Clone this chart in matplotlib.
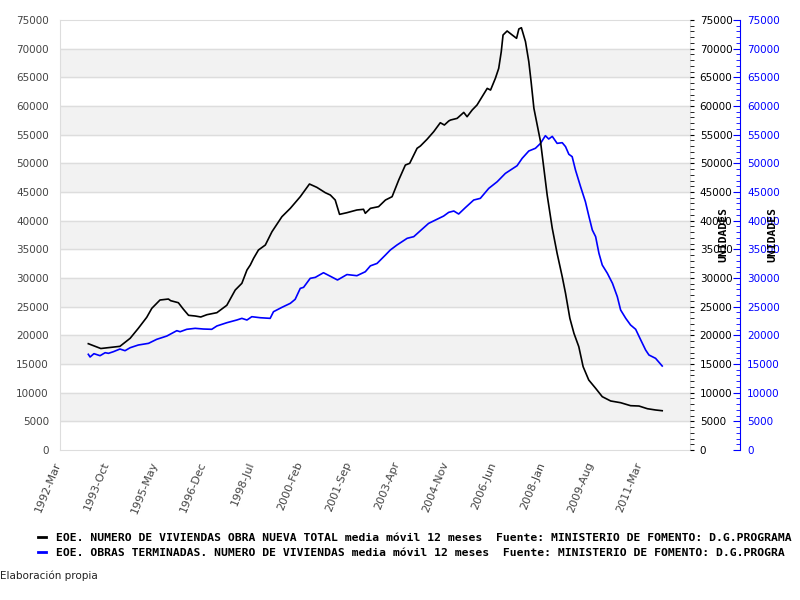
import matplotlib.pyplot as plt
from matplotlib.lines import Line2D
from matplotlib.ticker import MultipleLocator
from matplotlib.transforms import ScaledTranslation

# months counted from 1992-Mar
tick_pos = [0, 19, 38, 57, 76, 95, 114, 133, 152, 171, 190, 209, 228]
tick_labels = ["1992-Mar", "1993-Oct", "1995-May", "1996-Dec", "1998-Jul", "2000-Feb",
               "2001-Sep", "2003-Apr", "2004-Nov", "2006-Jun", "2008-Jan", "2009-Aug", "2011-Mar"]

nueva_x = [11.1, 16.0, 23.5, 27.5, 30.7, 34.0, 36.0, 39.2, 42.5, 43.4, 46.4, 48.4, 50.4, 53.0,
           55.2, 57.6, 61.5, 65.4, 68.7, 71.3, 73.3, 74.6, 75.9, 77.8, 80.5, 83.1, 87.0, 90.3,
           94.2, 97.8, 100.7, 104.0, 106.0, 107.9, 109.6, 112.5, 116.4, 119.0, 119.7, 121.7,
           124.9, 127.6, 130.2, 132.8, 135.4, 137.1, 140.0, 141.3, 143.9, 146.5, 149.1, 150.7,
           152.4, 153.1, 155.7, 158.3, 159.6, 161.6, 163.5, 165.5, 167.5, 168.8, 170.7, 172.0,
           173.0, 173.7, 175.3, 177.3, 179.0, 179.9, 180.9, 182.5, 183.8, 184.7, 185.8, 187.1,
           188.4, 189.7, 191.0, 193.0, 194.9, 196.9, 198.2, 199.9, 201.5, 203.4, 205.1, 207.3,
           210.0, 212.6, 215.9, 219.8, 223.7, 227.0, 230.3, 233.5, 236.1]
nueva_y = [18540, 17700, 18080, 19480, 21220, 23140, 24710, 26160, 26330, 26040, 25690, 24540,
           23490, 23370, 23200, 23600, 23950, 25240, 27900, 29070, 31390, 32260, 33430, 34880,
           35750, 38070, 40690, 42150, 44180, 46390, 45810, 44880, 44470, 43600, 41100, 41390,
           41860, 41980, 41280, 42150, 42440, 43600, 44180, 47090, 49700, 50000, 52620, 53020,
           54190, 55510, 57080, 56680, 57380, 57550, 57840, 58880, 58130, 59300, 60170, 61620,
           63070, 62780, 64830, 66560, 69460, 72380, 73080, 72380, 71800, 73430, 73650, 71220,
           67730, 64240, 59590, 56680, 53770, 49130, 44470, 38660, 34300, 30230, 27330, 22970,
           20350, 18020, 14530, 12210, 10760, 9300, 8550, 8250, 7730, 7670, 7200, 6980, 6850]

term_x = [11.1, 11.8, 13.3, 15.7, 17.7, 19.0, 20.9, 23.5, 25.5, 27.5, 30.7, 34.7, 37.9, 41.9,
          45.8, 47.1, 49.7, 53.0, 56.2, 59.5, 61.5, 65.4, 69.3, 71.3, 73.3, 75.2, 78.5, 82.4,
          83.7, 87.0, 90.3, 92.2, 94.2, 95.5, 98.1, 100.1, 103.3, 106.0, 108.8, 112.5, 116.4,
          119.7, 121.7, 124.3, 127.6, 129.5, 132.1, 136.1, 138.7, 141.3, 144.5, 147.2, 150.4,
          152.4, 154.4, 156.3, 158.9, 162.2, 164.8, 168.1, 171.4, 174.6, 179.2, 181.2, 183.8,
          186.4, 188.4, 190.3, 191.6, 193.0, 194.9, 196.9, 198.2, 199.5, 200.8, 202.1, 204.1,
          206.0, 207.4, 208.7, 210.0, 211.3, 212.6, 214.6, 216.6, 218.5, 219.8, 221.8, 223.7,
          225.7, 227.7, 229.6, 230.9, 233.5, 236.1]
term_y = [16690, 16220, 16800, 16450, 16970, 16860, 17140, 17610, 17320, 17840, 18310, 18600,
          19300, 19880, 20810, 20630, 21050, 21220, 21100, 21050, 21630, 22200, 22670, 22960,
          22670, 23250, 23070, 22960, 24120, 24880, 25580, 26280, 28190, 28370, 29940, 30110,
          30920, 30300, 29650, 30600, 30400, 31090, 32120, 32540, 34010, 34880, 35750, 36920,
          37210, 38250, 39520, 40110, 40800, 41450, 41680, 41160, 42260, 43600, 43890, 45630,
          46790, 48240, 49580, 50870, 52150, 52620, 53480, 54820, 54240, 54700, 53480, 53600,
          52910, 51580, 51160, 48830, 45920, 43300, 40690, 38370, 37210, 34300, 32260, 30820,
          29070, 26740, 24420, 22970, 21800, 21050, 19180, 17440, 16570, 15990, 14650]

label_nueva = "EOE. NUMERO DE VIVIENDAS OBRA NUEVA TOTAL media móvil 12 meses  Fuente: MINISTERIO DE FOMENTO: D.G.PROGRAMA"
label_term = "EOE. OBRAS TERMINADAS. NUMERO DE VIVIENDAS media móvil 12 meses  Fuente: MINISTERIO DE FOMENTO: D.G.PROGRA"

fig = plt.figure(figsize=(8, 6), dpi=100)
ax = fig.add_axes([0.075, 0.25, 0.7875, 0.7167])

for lo in range(5000, 75000, 10000):
    ax.axhspan(lo, lo + 5000, color="#f2f2f2", zorder=0)
for v in range(5000, 75000, 5000):
    ax.axhline(v, color="#dddddd", lw=1, zorder=1)

ax.plot(term_x, term_y, color="#0000ff", lw=1.2, zorder=3)
ax.plot(nueva_x, nueva_y, color="black", lw=1.2, zorder=4)

ax.set_xlim(0, 247)
ax.set_ylim(0, 75000)
ax.set_yticks(range(0, 75001, 5000))
ax.tick_params(axis="y", length=0, labelsize=7.5, labelcolor="#444444", pad=8)
ax.set_xticks(tick_pos)
ax.set_xticklabels(tick_labels, rotation=68, ha="right", rotation_mode="anchor",
                   fontsize=8, color="#444444")
ax.tick_params(axis="x", length=0, pad=6)
shift = ScaledTranslation(-7 / 100, -2 / 100, fig.dpi_scale_trans)
for lab in ax.get_xticklabels():
    lab.set_transform(lab.get_transform() + shift)
for s in ax.spines.values():
    s.set_color("#dddddd")

ax2 = ax.twinx()
ax2.set_ylim(0, 75000)
ax2.set_yticks(range(0, 75001, 5000))
ax2.yaxis.set_minor_locator(MultipleLocator(1000))
ax2.tick_params(axis="y", which="both", length=3, color="black", labelsize=7.5, pad=4)
for s in ax2.spines.values():
    s.set_visible(False)
ax2.set_ylabel("UNIDADES", fontsize=8.2, fontweight="bold", family="DejaVu Sans Mono",
               labelpad=-10)

ax3 = ax.twinx()
ax3.spines["right"].set_position(("outward", 36))
ax3.spines["right"].set_color("#0000ff")
for k in ["left", "top", "bottom"]:
    ax3.spines[k].set_visible(False)
ax3.set_ylim(0, 75000)
ax3.set_yticks(range(0, 75001, 5000))
ax3.yaxis.set_minor_locator(MultipleLocator(1000))
ax3.tick_params(axis="y", which="major", direction="in", length=5, color="#0000ff",
                labelcolor="#0000ff", labelsize=7.5, pad=5)
ax3.tick_params(axis="y", which="minor", direction="in", length=3, color="#0000ff")
ax3.set_ylabel("UNIDADES", fontsize=8.2, fontweight="bold", family="DejaVu Sans Mono",
               labelpad=-9)

handles = [Line2D([], [], color="black", lw=2), Line2D([], [], color="#0000ff", lw=2)]
fig.legend(handles, [label_nueva, label_term], loc="upper left", bbox_to_anchor=(0.047, 0.112),
           frameon=False, handlelength=0.7, handletextpad=0.9, labelspacing=0.45,
           borderaxespad=0, borderpad=0,
           prop={"family": "DejaVu Sans Mono", "weight": "bold", "size": 8.2})

fig.text(0.0, 0.035, "Elaboración propia", fontsize=7.5, color="#222222")

fig.savefig("out.png", dpi=100)
